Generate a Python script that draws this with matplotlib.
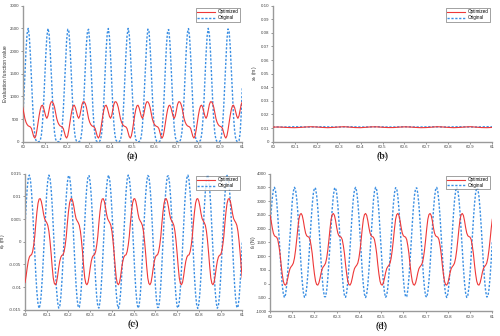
import matplotlib
matplotlib.use("Agg")
import matplotlib.pyplot as plt
import numpy as np

# time axis: 60.000 ... 61.000 s, 5 ms steps
t = np.round(60 + 0.005 * np.arange(201), 3)
t_b = np.round(60 + 0.025 * np.arange(41), 3)

# (a) evaluation function value
orig_a = [
    488, 939, 1485, 2010, 2382, 2499, 2326, 1913, 1373, 838, 415, 153, 34, 2, 0, 2, 31, 145, 402, 819,
    1351, 1893, 2313, 2497, 2392, 2029, 1507, 959, 503, 201, 52, 5, 0, 1, 19, 107, 325, 705, 1217, 1769,
    2230, 2479, 2444, 2135, 1639, 1086, 599, 258, 76, 11, 0, 0, 11, 76, 258, 599, 1087, 1640, 2135, 2444,
    2479, 2230, 1769, 1217, 705, 325, 107, 19, 1, 0, 5, 52, 201, 503, 959, 1507, 2029, 2392, 2497, 2313,
    1893, 1351, 819, 402, 145, 31, 2, 0, 2, 34, 153, 415, 838, 1373, 1913, 2326, 2499, 2382, 2010, 1485,
    939, 487, 192, 48, 5, 0, 1, 21, 113, 337, 723, 1239, 1789, 2245, 2483, 2436, 2118, 1618, 1065, 583,
    248, 71, 10, 0, 0, 12, 81, 269, 616, 1108, 1661, 2152, 2451, 2474, 2216, 1748, 1195, 687, 313, 101,
    17, 1, 0, 6, 55, 210, 518, 980, 1529, 2047, 2402, 2495, 2301, 1873, 1328, 799, 388, 138, 29, 2,
    0, 3, 36, 160, 429, 857, 1395, 1933, 2338, 2500, 2372, 1992, 1463, 919, 473, 184, 45, 4, 0, 1,
    23, 119, 349, 741, 1261, 1810, 2259, 2487, 2429, 2101, 1596, 1044, 567, 238, 67, 9, 0, 20, 180, 600,
    1200,
]
opt_a = [
    760, 630, 510, 430, 380, 350, 338, 325, 290, 200, 115, 80, 130, 260, 420, 580, 710, 790, 805, 750, 650, 560, 515, 570, 700, 820, 880, 880,
    840, 760, 630, 510, 430, 380, 350, 338, 325, 290, 200, 115, 80, 130, 260, 420, 580, 710, 790, 805, 750, 650, 560, 515, 570, 700, 820, 880, 880,
    840, 760, 630, 510, 430, 380, 350, 338, 325, 290, 200, 115, 80, 130, 260, 420, 580, 710, 790, 805, 750, 650, 560, 515, 570, 700, 820, 880, 880,
    840, 760, 630, 510, 430, 380, 350, 338, 325, 290, 200, 115, 80, 130, 260, 420, 580, 710, 790, 805, 750, 650, 560, 515, 570, 700, 820, 880, 880,
    840, 760, 630, 510, 430, 380, 350, 338, 325, 290, 200, 115, 80, 130, 260, 420, 580, 710, 790, 805, 750, 650, 560, 515, 570, 700, 820, 880, 880,
    840, 760, 630, 510, 430, 380, 350, 338, 325, 290, 200, 115, 80, 130, 260, 420, 580, 710, 790, 805, 750, 650, 560, 515, 570, 700, 820, 880, 880,
    840, 760, 630, 510, 430, 380, 350, 338, 325, 290, 200, 115, 80, 130, 260, 420, 580, 710, 790, 805, 750, 650, 560, 515, 570, 700, 820, 880,
]

# (b) x_b (m)
orig_b = [
    0.0109, 0.0108, 0.0108, 0.0109, 0.0110, 0.0109, 0.0108, 0.0108, 0.0109, 0.0110, 0.0109,
    0.0108, 0.0108, 0.0109, 0.0110, 0.0109, 0.0108, 0.0108, 0.0109, 0.0110, 0.0109,
    0.0108, 0.0108, 0.0109, 0.0110, 0.0109, 0.0108, 0.0108, 0.0109, 0.0110, 0.0109,
    0.0108, 0.0108, 0.0109, 0.0110, 0.0109, 0.0108, 0.0108, 0.0109, 0.0110, 0.0109,
]
opt_b = [
    0.0107, 0.0108, 0.0106, 0.0104, 0.0103, 0.0105, 0.0108, 0.0110, 0.0108, 0.0105, 0.0103,
    0.0105, 0.0108, 0.0110, 0.0107, 0.0104, 0.0103, 0.0106, 0.0109, 0.0109, 0.0106,
    0.0104, 0.0104, 0.0107, 0.0109, 0.0108, 0.0105, 0.0103, 0.0104, 0.0107, 0.0110,
    0.0108, 0.0105, 0.0103, 0.0105, 0.0108, 0.0110, 0.0107, 0.0104, 0.0103, 0.0105,
]

# (c) e_p (m)
orig_c = [
    0.00331, 0.00796, 0.01166, 0.01400, 0.01469, 0.01366, 0.01102, 0.00709, 0.00232, -0.00272,
    -0.00744, -0.01129, -0.01380, -0.01470, -0.01387, -0.01141, -0.00761, -0.00292, 0.00212, 0.00691,
    0.01088, 0.01358, 0.01468, 0.01406, 0.01178, 0.00812, 0.00351, -0.00152, -0.00637, -0.01047,
    -0.01334, -0.01464, -0.01423, -0.01214, -0.00862, -0.00410, 0.00091, 0.00581, 0.01003, 0.01307,
    0.01457, 0.01437, 0.01247, 0.00911, 0.00468, -0.00031, -0.00525, -0.00958, -0.01278, -0.01448,
    -0.01448, -0.01278, -0.00958, -0.00525, -0.00030, 0.00468, 0.00911, 0.01247, 0.01437, 0.01457,
    0.01307, 0.01003, 0.00581, 0.00091, -0.00410, -0.00863, -0.01214, -0.01423, -0.01464, -0.01334,
    -0.01046, -0.00636, -0.00151, 0.00351, 0.00813, 0.01179, 0.01406, 0.01468, 0.01358, 0.01088,
    0.00691, 0.00212, -0.00292, -0.00761, -0.01141, -0.01387, -0.01470, -0.01380, -0.01129, -0.00744,
    -0.00272, 0.00232, 0.00709, 0.01102, 0.01366, 0.01469, 0.01400, 0.01166, 0.00795, 0.00331,
    -0.00172, -0.00655, -0.01061, -0.01342, -0.01466, -0.01417, -0.01202, -0.00846, -0.00390, 0.00111,
    0.00600, 0.01017, 0.01316, 0.01460, 0.01432, 0.01236, 0.00895, 0.00448, -0.00051, -0.00544,
    -0.00973, -0.01288, -0.01452, -0.01445, -0.01268, -0.00942, -0.00506, -0.00010, 0.00487, 0.00927,
    0.01257, 0.01441, 0.01455, 0.01298, 0.00988, 0.00563, 0.00071, -0.00429, -0.00878, -0.01225,
    -0.01428, -0.01462, -0.01325, -0.01033, -0.00618, -0.00132, 0.00370, 0.00829, 0.01190, 0.01412,
    0.01467, 0.01350, 0.01075, 0.00673, 0.00192, -0.00311, -0.00778, -0.01154, -0.01393, -0.01470,
    -0.01373, -0.01116, -0.00727, -0.00252, 0.00252, 0.00726, 0.01115, 0.01373, 0.01470, 0.01394,
    0.01154, 0.00779, 0.00312, -0.00191, -0.00672, -0.01074, -0.01350, -0.01467, -0.01412, -0.01191,
    -0.00830, -0.00371, 0.00131, 0.00618, 0.01031, 0.01325, 0.01462, 0.01428, 0.01225, 0.00879,
    0.00430, -0.00070, -0.00562, -0.00988, -0.01297, -0.01455, -0.01441, -0.01258, -0.00927, -0.00488,
    0.00010,
]
opt_c = [
    -0.0090, -0.0076, -0.0058, -0.0043, -0.0034, -0.0030, -0.0029, -0.0022, -0.0008, 0.0012, 0.0041, 0.0066, 0.0085, 0.0094, 0.0095, 0.0089, 0.0077, 0.0062, 0.0051, 0.0046, 0.0042, 0.0036, 0.0023, 0.0002, -0.0025, -0.0055, -0.0080, -0.0092,
    -0.0095, -0.0090, -0.0076, -0.0058, -0.0043, -0.0034, -0.0030, -0.0029, -0.0022, -0.0008, 0.0012, 0.0041, 0.0066, 0.0085, 0.0094, 0.0095, 0.0089, 0.0077, 0.0062, 0.0051, 0.0046, 0.0042, 0.0036, 0.0023, 0.0002, -0.0025, -0.0055, -0.0080, -0.0092,
    -0.0095, -0.0090, -0.0076, -0.0058, -0.0043, -0.0034, -0.0030, -0.0029, -0.0022, -0.0008, 0.0012, 0.0041, 0.0066, 0.0085, 0.0094, 0.0095, 0.0089, 0.0077, 0.0062, 0.0051, 0.0046, 0.0042, 0.0036, 0.0023, 0.0002, -0.0025, -0.0055, -0.0080, -0.0092,
    -0.0095, -0.0090, -0.0076, -0.0058, -0.0043, -0.0034, -0.0030, -0.0029, -0.0022, -0.0008, 0.0012, 0.0041, 0.0066, 0.0085, 0.0094, 0.0095, 0.0089, 0.0077, 0.0062, 0.0051, 0.0046, 0.0042, 0.0036, 0.0023, 0.0002, -0.0025, -0.0055, -0.0080, -0.0092,
    -0.0095, -0.0090, -0.0076, -0.0058, -0.0043, -0.0034, -0.0030, -0.0029, -0.0022, -0.0008, 0.0012, 0.0041, 0.0066, 0.0085, 0.0094, 0.0095, 0.0089, 0.0077, 0.0062, 0.0051, 0.0046, 0.0042, 0.0036, 0.0023, 0.0002, -0.0025, -0.0055, -0.0080, -0.0092,
    -0.0095, -0.0090, -0.0076, -0.0058, -0.0043, -0.0034, -0.0030, -0.0029, -0.0022, -0.0008, 0.0012, 0.0041, 0.0066, 0.0085, 0.0094, 0.0095, 0.0089, 0.0077, 0.0062, 0.0051, 0.0046, 0.0042, 0.0036, 0.0023, 0.0002, -0.0025, -0.0055, -0.0080, -0.0092,
    -0.0095, -0.0090, -0.0076, -0.0058, -0.0043, -0.0034, -0.0030, -0.0029, -0.0022, -0.0008, 0.0012, 0.0041, 0.0066, 0.0085, 0.0094, 0.0095, 0.0089, 0.0077, 0.0062, 0.0051, 0.0046, 0.0042, 0.0036, 0.0023, 0.0002, -0.0025, -0.0055, -0.0080,
]

# (d) f_d (N)
orig_d = [
    1951, 2583, 3087, 3405, 3499, 3358, 2999, 2464, 1815, 1130, 488, -35, -378, -500, -387, -52, 465, 1103, 1789, 2440,
    2981, 3348, 3498, 3413, 3103, 2605, 1977, 1293, 634, 76, -315, -492, -435, -151, 327, 943, 1624, 2291, 2865, 3278,
    3483, 3455, 3197, 2739, 2136, 1458, 786, 197, -239, -470, -470, -239, 197, 786, 1459, 2137, 2739, 3197, 3455, 3483,
    3278, 2865, 2290, 1623, 942, 326, -152, -435, -492, -314, 77, 634, 1294, 1978, 2606, 3104, 3413, 3498, 3348, 2980,
    2440, 1788, 1103, 464, -53, -387, -500, -378, -35, 488, 1130, 1816, 2464, 2999, 3358, 3499, 3405, 3087, 2582, 1951,
    1266, 609, 57, -326, -494, -428, -135, 349, 969, 1652, 2316, 2884, 3291, 3486, 3449, 3182, 2718, 2110, 1431, 760,
    176, -252, -475, -466, -225, 218, 811, 1486, 2162, 2761, 3211, 3460, 3479, 3266, 2845, 2266, 1597, 916, 305, -167,
    -442, -489, -303, 95, 659, 1321, 2004, 2628, 3119, 3421, 3496, 3337, 2963, 2416, 1762, 1077, 441, -69, -396, -500,
    -368, -18, 511, 1157, 1842, 2488, 3017, 3368, 3500, 3396, 3070, 2560, 1925, 1240, 585, 38, -337, -496, -421, -120,
    371, 995, 1678, 2341, 2903, 3302, 3489, 3442, 3167, 2696, 2085, 1404, 735, 156, -265, -479, -460, -211, 239, 837,
    1513,
]
opt_d = [
    2480, 2290, 2040, 1840, 1740, 1710, 1690, 1600, 1380, 1090, 690, 350, 90, -30, -50, 30, 200, 400, 550, 620, 670, 750, 930, 1220, 1590, 2000, 2340, 2510,
    2550, 2480, 2290, 2040, 1840, 1740, 1710, 1690, 1600, 1380, 1090, 690, 350, 90, -30, -50, 30, 200, 400, 550, 620, 670, 750, 930, 1220, 1590, 2000, 2340, 2510,
    2550, 2480, 2290, 2040, 1840, 1740, 1710, 1690, 1600, 1380, 1090, 690, 350, 90, -30, -50, 30, 200, 400, 550, 620, 670, 750, 930, 1220, 1590, 2000, 2340, 2510,
    2550, 2480, 2290, 2040, 1840, 1740, 1710, 1690, 1600, 1380, 1090, 690, 350, 90, -30, -50, 30, 200, 400, 550, 620, 670, 750, 930, 1220, 1590, 2000, 2340, 2510,
    2550, 2480, 2290, 2040, 1840, 1740, 1710, 1690, 1600, 1380, 1090, 690, 350, 90, -30, -50, 30, 200, 400, 550, 620, 670, 750, 930, 1220, 1590, 2000, 2340, 2510,
    2550, 2480, 2290, 2040, 1840, 1740, 1710, 1690, 1600, 1380, 1090, 690, 350, 90, -30, -50, 30, 200, 400, 550, 620, 670, 750, 930, 1220, 1590, 2000, 2340, 2510,
    2550, 2480, 2290, 2040, 1840, 1740, 1710, 1690, 1600, 1380, 1090, 690, 350, 90, -30, -50, 30, 200, 400, 550, 620, 670, 750, 930, 1220, 1590, 2000, 2340,
]

x_ticks = [60, 60.1, 60.2, 60.3, 60.4, 60.5, 60.6, 60.7, 60.8, 60.9, 61]
x_tick_labels = ["60", "60.1", "60.2", "60.3", "60.4", "60.5", "60.6", "60.7", "60.8", "60.9", "61"]

RED = "#ee3838"
BLUE = "#3b8fe3"
DASH = (0, (1.6, 1.2))

plt.rcParams.update({
    "font.family": ["Liberation Sans", "DejaVu Sans"],
    "font.size": 4,
    "mathtext.fontset": "custom",
    "mathtext.it": "Liberation Sans:italic",
    "mathtext.rm": "Liberation Sans",
})

fig = plt.figure(figsize=(5.0, 3.36), dpi=100)
fig.patch.set_facecolor("white")

panels = [
    # rect, x, opt, orig, ylim, yticks, ylabels, ylabel, ylabel_x, tag
    ([0.0454, 0.5783, 0.4392, 0.4048], t, opt_a, orig_a, (0, 3000),
     [0, 500, 1000, 1500, 2000, 2500, 3000],
     ["0", "500", "1000", "1500", "2000", "2500", "3000"],
     "Evaluation function value", -0.066, "(a)"),
    ([0.5454, 0.5783, 0.4392, 0.4048], t_b, opt_b, orig_b, (0, 0.10),
     [0, 0.01, 0.02, 0.03, 0.04, 0.05, 0.06, 0.07, 0.08, 0.09, 0.10],
     ["0", "0.01", "0.02", "0.03", "0.04", "0.05", "0.06", "0.07", "0.08", "0.09", "0.10"],
     r"$x_b$ (m)", -0.062, "(b)"),
    ([0.0500, 0.0783, 0.4346, 0.4048], t, opt_c, orig_c, (-0.015, 0.015),
     [-0.015, -0.01, -0.005, 0, 0.005, 0.01, 0.015],
     ["-0.015", "-0.01", "-0.005", "0", "0.005", "0.01", "0.015"],
     r"$e_p$ (m)", -0.074, "(c)"),
    ([0.5400, 0.0735, 0.4446, 0.4101], t, opt_d, orig_d, (-1000, 4000),
     [-1000, -500, 0, 500, 1000, 1500, 2000, 2500, 3000, 3500, 4000],
     ["-1000", "-500", "0", "500", "1000", "1500", "2000", "2500", "3000", "3500", "4000"],
     r"$f_d$ (N)", -0.052, "(d)"),
]

for rect, x, opt, orig, ylim, yticks, ylabels, ylabel, ylabel_x, tag in panels:
    ax = fig.add_axes(rect)
    ax.plot(x, opt, color=RED, linewidth=0.8, label="Optimized", zorder=3)
    ax.plot(x, orig, color=BLUE, linewidth=1.0, linestyle=DASH, label="Original", zorder=2)
    ax.set_xlim(60, 61)
    ax.set_ylim(*ylim)
    ax.set_xticks(x_ticks)
    ax.set_xticklabels(x_tick_labels)
    ax.set_yticks(yticks)
    ax.set_yticklabels(ylabels)
    ax.spines["top"].set_visible(False)
    ax.spines["right"].set_visible(False)
    for side in ("left", "bottom"):
        ax.spines[side].set_color("#9a9a9a")
        ax.spines[side].set_linewidth(1.0)
    ax.tick_params(labelsize=3.2, length=1.5, width=0.4, pad=1, colors="#444444")
    ax.set_xlabel(r"$t$ (s)", fontsize=3.8, labelpad=1, color="#333333")
    ax.set_ylabel(ylabel, fontsize=3.6, color="#333333")
    ax.yaxis.set_label_coords(ylabel_x, 0.5)
    leg = ax.legend(loc="upper right", fontsize=3.3, frameon=True, fancybox=False,
                    borderpad=0.3, handlelength=4.0, handletextpad=0.5,
                    labelspacing=0.2, borderaxespad=0.5)
    leg.get_frame().set_edgecolor("#333333")
    leg.get_frame().set_linewidth(0.4)
    ax.text(0.5, -0.07, tag, transform=ax.transAxes, ha="center", va="top",
            fontsize=7.5, family="Liberation Serif")

fig.savefig("out.png", dpi=100, facecolor="white")
